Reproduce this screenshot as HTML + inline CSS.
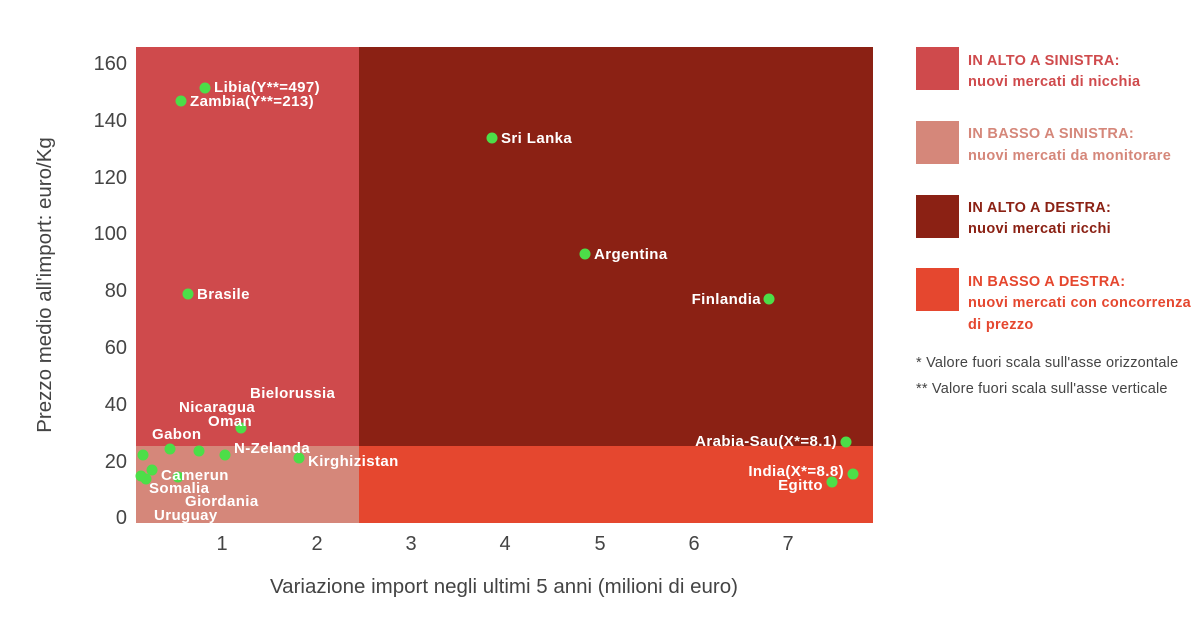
<!DOCTYPE html>
<html><head><meta charset="utf-8"><style>
body{margin:0;background:#fff;}
svg{display:block;font-family:"Liberation Sans",sans-serif;}
.l{fill:#fff;font-weight:bold;font-size:15px;letter-spacing:0.4px;}
.t{fill:#444;font-size:20px;}
.lg{font-weight:bold;font-size:14.5px;letter-spacing:0.3px;}
.n{fill:#444;font-size:14.5px;letter-spacing:0.2px;}
</style></head><body>
<svg width="1198" height="619" viewBox="0 0 1198 619">
<defs><clipPath id="c"><rect x="136" y="47" width="737" height="476"/></clipPath></defs>
<rect x="136" y="47" width="223" height="399" fill="#cf4a4c"/>
<rect x="136" y="446" width="223" height="77" fill="#d5877a"/>
<rect x="359" y="47" width="514" height="399" fill="#8b2114"/>
<rect x="359" y="446" width="514" height="77" fill="#e5472f"/>
<g fill="#4cde48">
<circle cx="205" cy="88" r="5.5"/><circle cx="181" cy="101" r="5.5"/>
<circle cx="492" cy="138" r="5.5"/><circle cx="585" cy="254" r="5.5"/>
<circle cx="769" cy="299" r="5.5"/><circle cx="188" cy="294" r="5.5"/>
<circle cx="241" cy="428" r="5.5"/><circle cx="143" cy="455" r="5.5"/>
<circle cx="170" cy="449" r="5.5"/><circle cx="199" cy="451" r="5.5"/>
<circle cx="225" cy="455" r="5.5"/><circle cx="299" cy="458" r="5.5"/>
<circle cx="141" cy="476" r="5.5"/><circle cx="152" cy="470" r="5.5"/>
<circle cx="146" cy="479" r="5.5"/><circle cx="178" cy="477" r="5.5"/>
<circle cx="846" cy="442" r="5.5"/><circle cx="853" cy="474" r="5.5"/>
<circle cx="832" cy="482" r="5.5"/>
</g>
<g class="l" clip-path="url(#c)">
<text x="214" y="92">Libia(Y**=497)</text>
<text x="190" y="106">Zambia(Y**=213)</text>
<text x="501" y="143">Sri Lanka</text>
<text x="594" y="259">Argentina</text>
<text x="761" y="304" text-anchor="end">Finlandia</text>
<text x="197" y="299">Brasile</text>
<text x="250" y="398">Bielorussia</text>
<text x="179" y="412">Nicaragua</text>
<text x="208" y="426">Oman</text>
<text x="152" y="439">Gabon</text>
<text x="234" y="453">N-Zelanda</text>
<text x="308" y="466">Kirghizistan</text>
<text x="161" y="480">Camerun</text>
<text x="149" y="493">Somalia</text>
<text x="185" y="506">Giordania</text>
<text x="154" y="520">Uruguay</text>
<text x="200" y="534">Altri</text>
<text x="837" y="446" text-anchor="end">Arabia-Sau(X*=8.1)</text>
<text x="844" y="476" text-anchor="end">India(X*=8.8)</text>
<text x="823" y="490" text-anchor="end">Egitto</text>
</g>
<g class="t" text-anchor="end">
<text x="127" y="70">160</text><text x="127" y="127">140</text>
<text x="127" y="184">120</text><text x="127" y="240">100</text>
<text x="127" y="297">80</text><text x="127" y="354">60</text>
<text x="127" y="411">40</text><text x="127" y="468">20</text>
<text x="127" y="524">0</text>
</g>
<g class="t" text-anchor="middle">
<text x="222" y="550">1</text><text x="317" y="550">2</text>
<text x="411" y="550">3</text><text x="505" y="550">4</text>
<text x="600" y="550">5</text><text x="694" y="550">6</text>
<text x="788" y="550">7</text>
</g>
<text x="504" y="593" text-anchor="middle" style="fill:#444;font-size:20.5px">Variazione import negli ultimi 5 anni (milioni di euro)</text>
<text transform="translate(51,285) rotate(-90)" text-anchor="middle" style="fill:#444;font-size:20.5px">Prezzo medio all'import: euro/Kg</text>
<rect x="916" y="47" width="43" height="43" fill="#cf4a4c"/>
<rect x="916" y="121" width="43" height="43" fill="#d5877a"/>
<rect x="916" y="195" width="43" height="43" fill="#8b2114"/>
<rect x="916" y="268" width="43" height="43" fill="#e5472f"/>
<g class="lg">
<text x="968" y="65" fill="#cf4a4c">IN ALTO A SINISTRA:</text>
<text x="968" y="86" fill="#cf4a4c">nuovi mercati di nicchia</text>
<text x="968" y="138" fill="#d5877a">IN BASSO A SINISTRA:</text>
<text x="968" y="160" fill="#d5877a">nuovi mercati da monitorare</text>
<text x="968" y="212" fill="#8b2114">IN ALTO A DESTRA:</text>
<text x="968" y="233" fill="#8b2114">nuovi mercati ricchi</text>
<text x="968" y="286" fill="#e5472f">IN BASSO A DESTRA:</text>
<text x="968" y="307" fill="#e5472f">nuovi mercati con concorrenza</text>
<text x="968" y="329" fill="#e5472f">di prezzo</text>
</g>
<text class="n" x="916" y="367">* Valore fuori scala sull'asse orizzontale</text>
<text class="n" x="916" y="393">** Valore fuori scala sull'asse verticale</text>
</svg>
</body></html>
